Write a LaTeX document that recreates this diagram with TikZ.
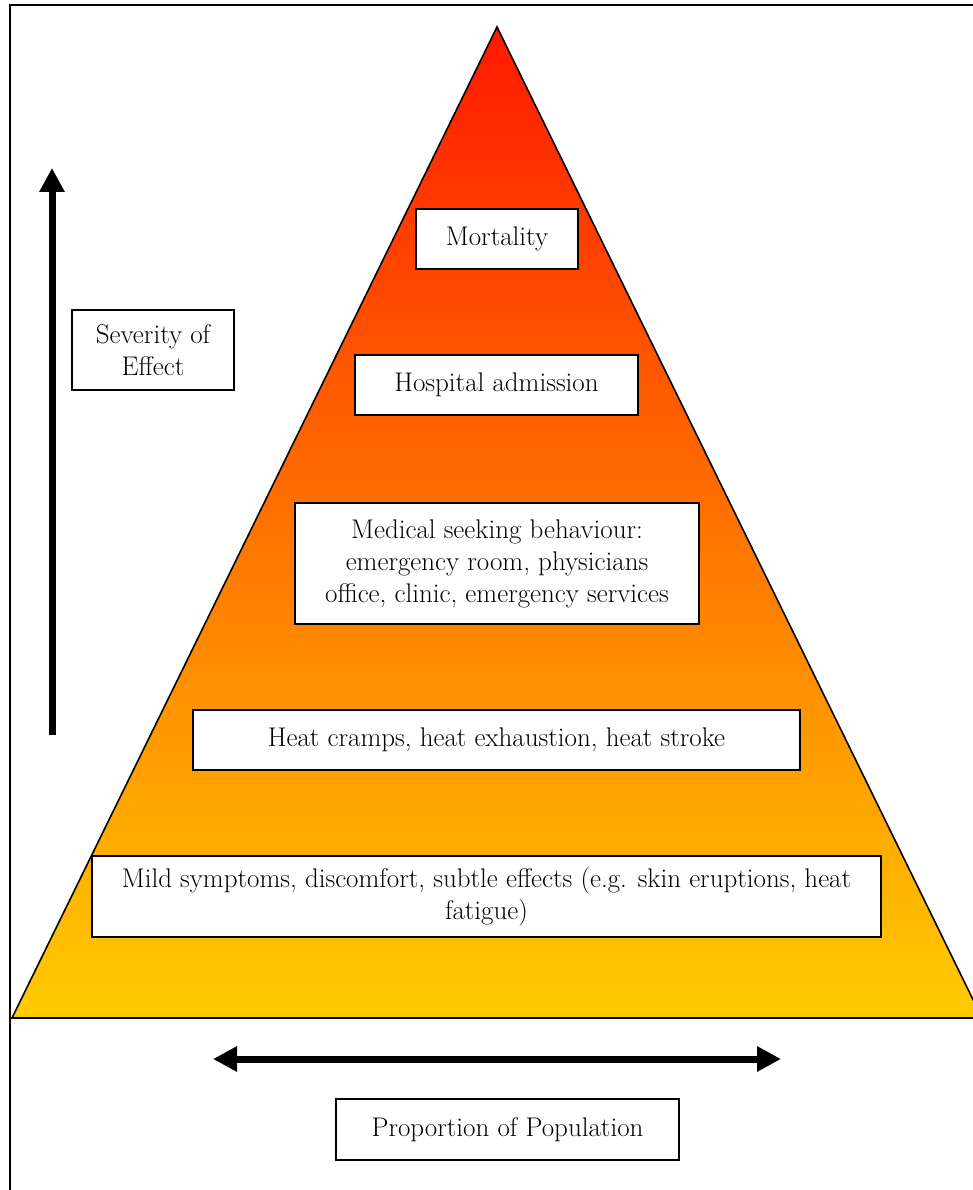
\documentclass[tikz,border=0pt]{standalone}
\usepackage{fontspec}
\usetikzlibrary{positioning, arrows.meta}

\definecolor{pyrtop}{RGB}{255,25,0}
\definecolor{pyrmid}{RGB}{255,150,0}
\definecolor{pyrbot}{RGB}{255,204,0}

\tikzset{
    labelbox/.style={draw, line width=1.6pt, fill=white, align=center,
        inner sep=2pt, font=\fontsize{27}{32}\selectfont},
    bigarrow/.style={line width=7pt, -{Triangle[width=24pt, length=24pt]}},
    botharrow/.style={line width=7pt, {Triangle[width=24pt, length=24pt]}-{Triangle[width=24pt, length=24pt]}}
}

\begin{document}
\begin{tikzpicture}[x=1pt, y=-1pt]
        \useasboundingbox (0,0) rectangle (972,1190);
        \draw[line width=1.5pt] (10,5) rectangle (995,1215);
        %---------------------------
        \coordinate (apex) at (497,27);
        \coordinate (baseleft) at (12,1018);
        \coordinate (baseright) at (982,1018);
        \shade[top color=pyrtop, middle color=pyrmid, bottom color=pyrbot]
            (apex) -- (baseleft) -- (baseright) -- cycle;
        \draw[line width=1.6pt, line join=miter] (apex) -- (baseleft) -- (baseright) -- cycle;
        %---------------------------
        \node[labelbox, minimum width=162, minimum height=60] (mortality) at (497,239) {Mortality};
        \node[labelbox, minimum width=283, minimum height=60] (hospital) at (496.5,385) {Hospital admission};
        \node[labelbox, minimum width=404, minimum height=121] (medical) at (497,563.5)
            {Medical seeking behaviour:\\ emergency room, physicians\\ office, clinic, emergency services};
        \node[labelbox, minimum width=607, minimum height=60] (heat) at (496.5,740)
            {Heat cramps, heat exhaustion, heat stroke};
        \node[labelbox, minimum width=789, minimum height=81] (mild) at (486.5,896.5)
            {Mild symptoms, discomfort, subtle effects (e.g. skin eruptions, heat\\ fatigue)};
        \node[labelbox, minimum width=162, minimum height=80] (severity) at (153,350) {Severity of\\ Effect};
        \node[labelbox, minimum width=343, minimum height=61] (proportion) at (507.5,1129.5) {Proportion of Population};
        %--------------------------
        \coordinate (sevlow) at (52,735);
        \coordinate (sevhigh) at (52,168);
        \coordinate (propleft) at (213,1059);
        \coordinate (propright) at (781,1059);
        \draw[bigarrow] (sevlow) -- (sevhigh);
        \draw[botharrow] (propleft) -- (propright);
\end{tikzpicture}
\end{document}
